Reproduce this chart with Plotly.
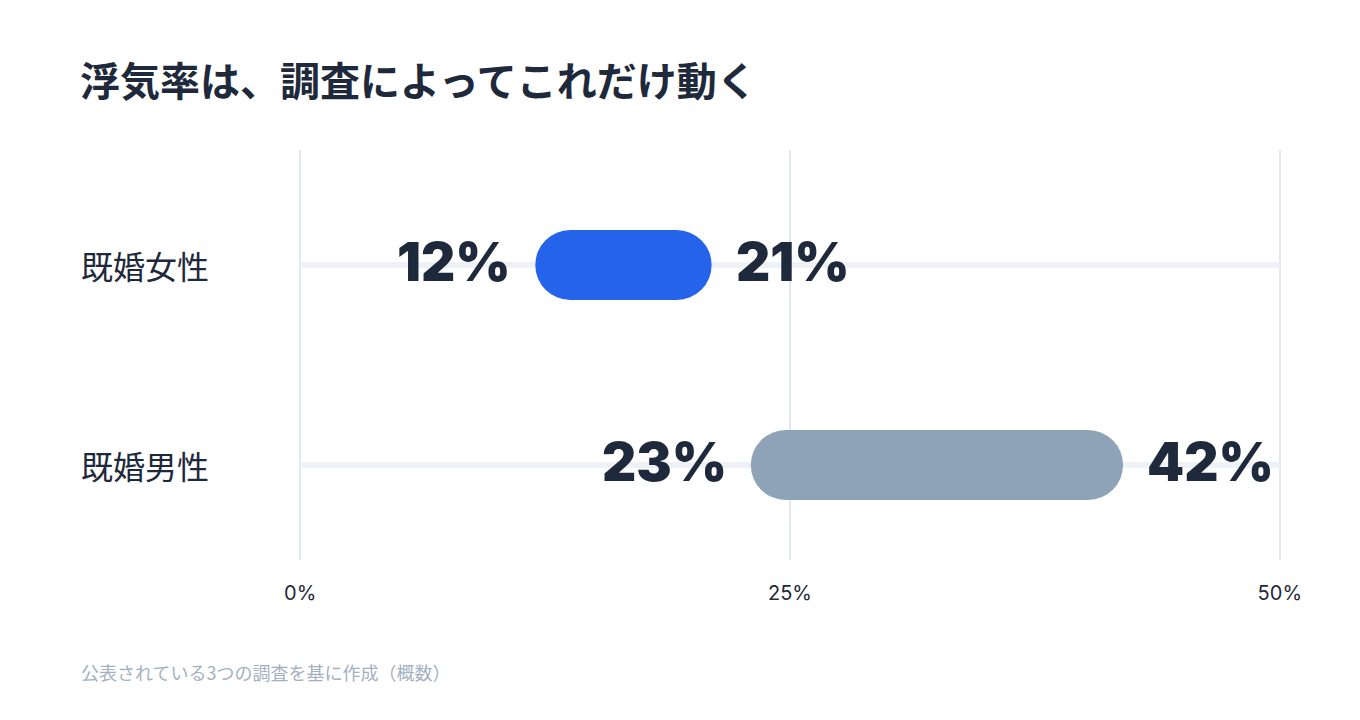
import plotly.graph_objects as go

# データ
categories = ["既婚男性", "既婚女性"]
low_values = [23, 12]
high_values = [42, 21]
bar_colors = ["#8fa3b8", "#2563eb"]
tick_values = [0, 25, 50]
tick_labels = ["0%", "25%", "50%"]

title_text = "浮気率は、調査によってこれだけ動く"
note_text = "公表されている3つの調査を基に作成（概数）"

navy = "#1e293b"
jp_font = "Noto Sans CJK JP"
num_font = "Inter"

fig = go.Figure()

# 背景のトラック線（グリッドとバーの間）
for i, cat in enumerate(categories):
    fig.add_shape(type="line", layer="between", xref="x", yref="y",
                  x0=tick_values[0], x1=tick_values[-1], y0=i, y1=i,
                  line=dict(color="#eef2f6", width=6))

# 範囲のバー
fig.add_trace(go.Bar(
    y=categories,
    x=[h - l for l, h in zip(low_values, high_values)],
    base=low_values,
    orientation="h",
    width=0.35,
    marker=dict(color=bar_colors, cornerradius=35, line=dict(width=0)),
    hoverinfo="skip", showlegend=False,
))

# 数値ラベル
for cat, lo, hi in zip(categories, low_values, high_values):
    fig.add_annotation(x=lo, y=cat, text=f"{lo}%", showarrow=False,
                       xanchor="right", xshift=-22, yshift=3,
                       font=dict(family=num_font, size=53, color=navy, weight=900))
    fig.add_annotation(x=hi, y=cat, text=f"{hi}%", showarrow=False,
                       xanchor="left", xshift=22, yshift=3,
                       font=dict(family=num_font, size=53, color=navy, weight=900))
    # カテゴリ名
    fig.add_annotation(x=-220 / 980, xref="paper", y=cat, text=cat, showarrow=False,
                       xanchor="left", font=dict(family=jp_font, size=32, color=navy))

# 注記
fig.add_annotation(x=-220 / 980, xref="paper", y=-112 / 410, yref="paper",
                   text=note_text, showarrow=False, xanchor="left", yanchor="middle",
                   font=dict(family=jp_font, size=18, color="#a3b1c2"))

fig.update_layout(
    width=1360, height=720,
    margin=dict(l=299, r=79, t=150, b=160),
    paper_bgcolor="white", plot_bgcolor="white",
    title=dict(text=title_text, x=80 / 1360, xref="container", xanchor="left",
               y=1 - 82 / 720, yref="container", yanchor="middle",
               font=dict(family=jp_font, size=40, color=navy, weight="bold")),
    hovermode=False,
)
fig.update_xaxes(range=[-0.06, 50.06], tickvals=tick_values, ticktext=tick_labels,
                 showgrid=True, gridcolor="#e2e8f0", gridwidth=2, zeroline=False,
                 showline=False, ticks="", ticklabelstandoff=19,
                 tickfont=dict(family=num_font, size=20, color=navy), fixedrange=True)
fig.update_yaxes(type="category", categoryarray=categories, range=[-0.475, 1.575],
                 showticklabels=False, showgrid=False, zeroline=False, fixedrange=True)

fig.write_html("out.html", config={"displayModeBar": False},
               post_script="document.body.style.margin='0';")
